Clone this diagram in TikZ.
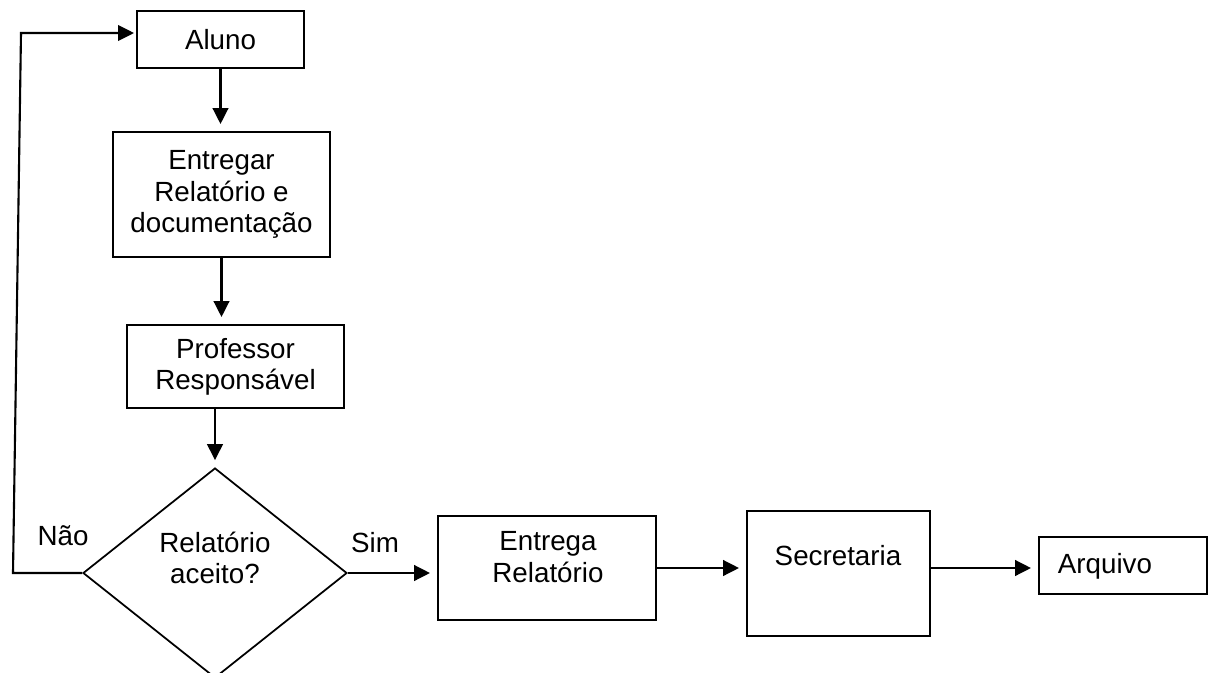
\documentclass[tikz,border=0pt]{standalone}
\usepackage{fontspec}
\setmainfont{Liberation Sans}
\usetikzlibrary{arrows.meta}
\usetikzlibrary{shapes.geometric}
\tikzset{caixa/.style = {draw, line width=1.1pt, inner sep=0, align=center},
  decisao/.style = {diamond, draw, line width=1pt, inner sep=0, minimum width=5.28cm, minimum height=4.2cm},
  texto/.style = {align=center, inner sep=0},
  seta/.style = {line width=1.5pt, -{Triangle[length=0.32cm, width=0.31cm]}, shorten >=0.14cm}}

\begin{document}
\begin{tikzpicture} [x=0.02cm, y=0.02cm, font=\fontsize{15.8}{17.8}\selectfont]
\useasboundingbox (0,0) rectangle (1208,-673);
\clip (0,0) rectangle (1208,-673);
% coluna da esquerda
\node[caixa, minimum width=3.34cm, minimum height=1.14cm] (aluno) at (220.5,-39.5) {Aluno};
\node[caixa, minimum width=4.34cm, minimum height=2.5cm] (entregar) at (221.5,-194.5) {Entregar\\Relatório e\\documentação};
\node[caixa, minimum width=4.34cm, minimum height=1.66cm] (professor) at (235.5,-366.5) {Professor\\Responsável};
\node[decisao] (aceito) at (215,-573) {};
\node[texto] (aceitoT) at (215,-558) {Relatório\\aceito?};
% linha de baixo
\node[caixa, minimum width=4.36cm, minimum height=2.08cm] (entrega) at (547,-568) {};
\node[texto] (entregaT) at (548,-557) {Entrega\\Relatório};
\node[caixa, minimum width=3.66cm, minimum height=2.5cm] (secretaria) at (838.5,-573.5) {};
\node[texto] (secretariaT) at (838,-556) {Secretaria};
\node[caixa, minimum width=3.36cm, minimum height=1.14cm] (arquivo) at (1123,-565.5) {};
\node[texto, anchor=base] (arquivoT) at (1105,-573) {Arquivo};
\node[texto] (nao) at (63,-536) {Não};
\node[texto] (sim) at (375,-543) {Sim};
% setas
\draw[seta] (aluno.south) -- (aluno.south |- entregar.north);
\draw[seta] (entregar.south) -- (entregar.south |- professor.north);
\draw[seta] (aceito.north |- professor.south) -- (aceito.north);
\draw[seta] (aceito.east) -- (entrega.west |- aceito.east);
\draw[seta] (entrega.east) -- (secretaria.west |- entrega.east);
\draw[seta] (secretaria.east |- entrega.east) -- (arquivo.west |- entrega.east);
% volta para o aluno
\coordinate (canto1) at (13,-573);
\coordinate (canto2) at (21,-33);
\draw[seta, line width=1.2pt, shorten >=0.04cm] (aceito.west) -- (canto1) -- (canto2) -- (canto2 -| aluno.west);
\end{tikzpicture}
\end{document}
